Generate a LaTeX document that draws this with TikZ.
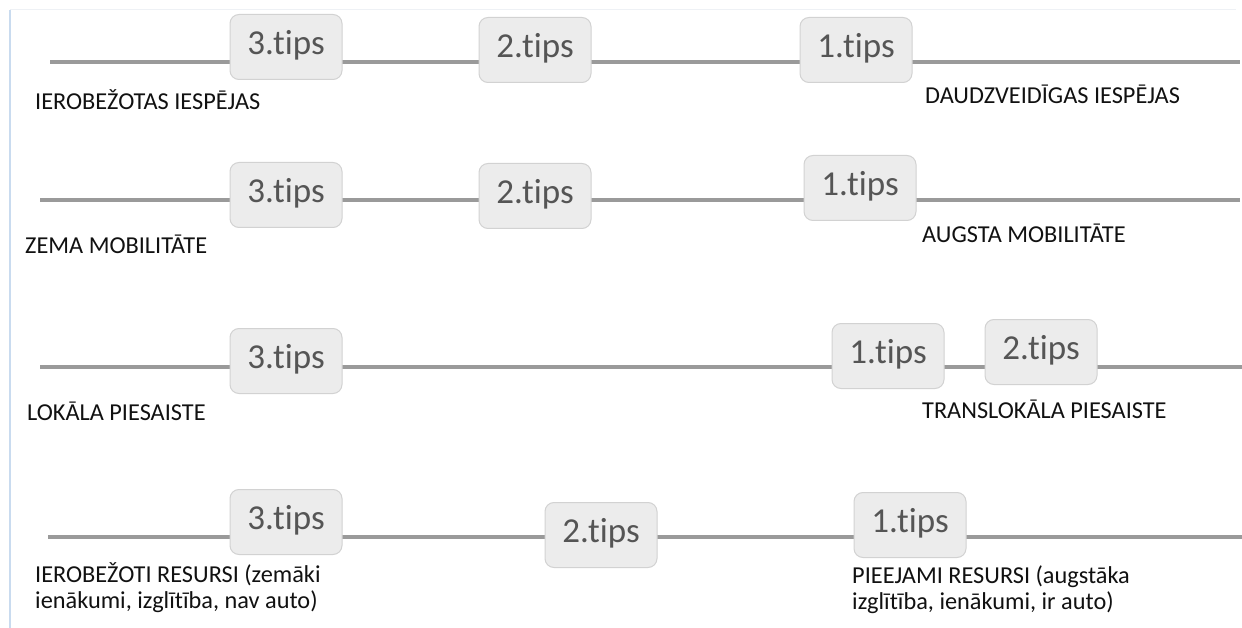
\documentclass[tikz,border=0pt]{standalone}
\usepackage{fontspec}
\setmainfont{Carlito}[Ligatures=NoCommon]
\definecolor{linegray}{HTML}{9A9A9A}
\definecolor{boxfill}{HTML}{ECECEC}
\definecolor{boxline}{HTML}{D2D2D2}
\definecolor{tiptext}{HTML}{555555}
\definecolor{labeltext}{HTML}{111111}
\definecolor{frametop}{HTML}{EEF1F5}
\definecolor{frameleft}{HTML}{C9DBEF}
\begin{document}
\begin{tikzpicture}[x=1pt,y=-1pt,
  tipbox/.style={draw=boxline, line width=1pt, fill=boxfill, rounded corners=9pt,
    minimum width=112pt, minimum height=65pt, inner sep=0pt,
    text=tiptext, font=\fontsize{35}{40}\selectfont, text height=22pt, text depth=7pt},
  axis/.style={draw=linegray, line width=4pt},
  lbl/.style={anchor=base west, inner sep=0pt, text=labeltext, align=left,
    font=\fontsize{24.3}{26}\selectfont}
]
\useasboundingbox (0,0) rectangle (1242,628);
\fill[white] (0,0) rectangle (1242,628);
% faint frame
\draw[frametop, line width=1pt] (10,10) -- (1236,10);
\draw[frameleft, line width=1.2pt] (10,10) -- (10,628);

% row 1
\coordinate (r1s) at (50,62);
\coordinate (r1e) at (1240,62);
\draw[axis] (r1s) -- (r1e);
\node[tipbox] (a3) at (286,47) {3.tips};
\node[tipbox] (a2) at (535,50) {2.tips};
\node[tipbox] (a1) at (856,50) {1.tips};
\node[lbl] (al) at (35,110) {IEROBEŽOTAS IESPĒJAS};
\node[lbl] (ar) at (925,104) {DAUDZVEIDĪGAS IESPĒJAS};

% row 2
\coordinate (r2s) at (40,200);
\coordinate (r2e) at (1240,200);
\draw[axis] (r2s) -- (r2e);
\node[tipbox] (b3) at (286,195) {3.tips};
\node[tipbox] (b2) at (535,196) {2.tips};
\node[tipbox] (b1) at (860,188) {1.tips};
\node[lbl] (bl) at (25,254) {ZEMA MOBILITĀTE};
\node[lbl] (br) at (922,243) {AUGSTA MOBILITĀTE};

% row 3
\coordinate (r3s) at (40,367);
\coordinate (r3e) at (1242,367);
\draw[axis] (r3s) -- (r3e);
\node[tipbox] (c3) at (286,361) {3.tips};
\node[tipbox] (c1) at (888,356) {1.tips};
\node[tipbox] (c2) at (1041,352) {2.tips};
\node[lbl] (cl) at (27,420) {LOKĀLA PIESAISTE};
\node[lbl] (cr) at (922,418) {TRANSLOKĀLA PIESAISTE};

% row 4
\coordinate (r4s) at (48,537);
\coordinate (r4e) at (1242,537);
\draw[axis] (r4s) -- (r4e);
\node[tipbox] (d3) at (286,522) {3.tips};
\node[tipbox] (d2) at (601,535) {2.tips};
\node[tipbox] (d1) at (910,525) {1.tips};
\node[lbl] (dl) at (35,608) {IEROBEŽOTI RESURSI (zemāki\\ienākumi, izglītība, nav auto)};
\node[lbl] (dr) at (852,609) {PIEEJAMI RESURSI (augstāka\\izglītība, ienākumi, ir auto)};
\end{tikzpicture}
\end{document}
